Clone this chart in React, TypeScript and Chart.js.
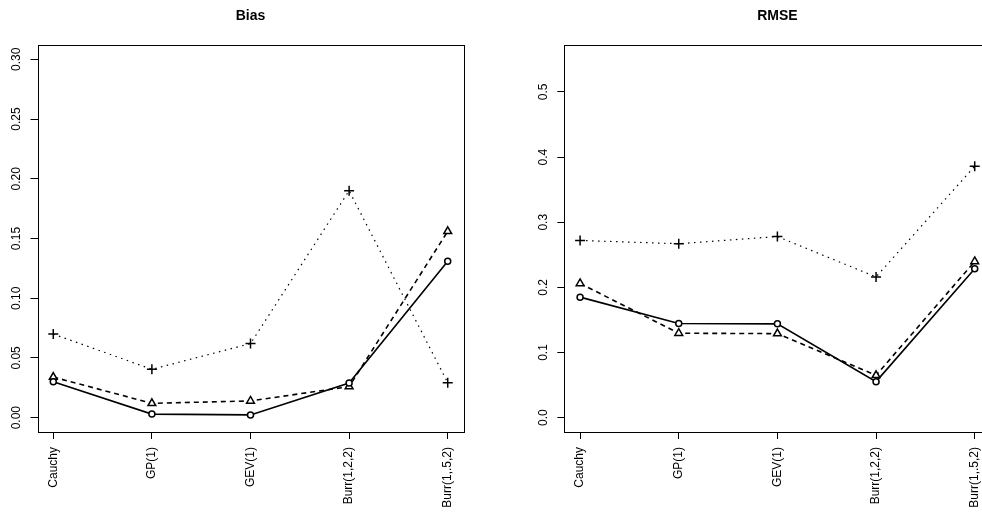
import React, { useEffect, useRef } from "react";
import { Chart, registerables } from "chart.js";
Chart.register(...registerables);

const categories = ["Cauchy", "GP(1)", "GEV(1)", "Burr(1,2,2)", "Burr(1,.5,2)"];
const xPositions = [1, 2, 3, 4, 5];

const biasCircle = [0.030, 0.003, 0.0023, 0.029, 0.131];
const biasTriangle = [0.034, 0.012, 0.014, 0.026, 0.156];
const biasPlus = [0.070, 0.0405, 0.062, 0.190, 0.0293];

const rmseCircle = [0.185, 0.1445, 0.144, 0.0553, 0.2285];
const rmseTriangle = [0.206, 0.1296, 0.129, 0.065, 0.2397];
const rmsePlus = [0.272, 0.267, 0.278, 0.216, 0.386];

const biasTicks = [0, 0.05, 0.1, 0.15, 0.2, 0.25, 0.3];
const rmseTicks = [0, 0.1, 0.2, 0.3, 0.4, 0.5];

const FONT = '"Liberation Sans", Arial, Helvetica, sans-serif';

const rPlot = {
  id: "rplot",
  afterDraw(chart: any, _args: any, opts: any) {
    const { ctx, chartArea: a } = chart;
    ctx.save();
    ctx.strokeStyle = "#000";
    ctx.lineWidth = 1;
    ctx.setLineDash([]);
    ctx.strokeRect(
      Math.round(a.left) + 0.5,
      Math.round(a.top) + 0.5,
      Math.round(a.right - a.left),
      Math.round(a.bottom - a.top)
    );
    ctx.fillStyle = "#000";
    ctx.font = `bold 14px ${FONT}`;
    ctx.textAlign = "center";
    ctx.textBaseline = "alphabetic";
    ctx.fillText(opts.title, (a.left + a.right) / 2, 20);
    const ys = chart.scales.y;
    ctx.font = `12px ${FONT}`;
    for (const t of ys.ticks) {
      const y = ys.getPixelForValue(t.value);
      ctx.save();
      ctx.translate(a.left - 17.5, y);
      ctx.rotate(-Math.PI / 2);
      ctx.fillText(Number(t.value).toFixed(opts.decimals), 0, 0);
      ctx.restore();
    }
    ctx.restore();
  },
};

type PanelProps = {
  title: string;
  circle: number[];
  triangle: number[];
  plus: number[];
  ticks: number[];
  yMin: number;
  yMax: number;
  decimals: number;
  width: number;
  axisWidth: number;
  padRight: number;
  left: number;
};

function Panel(p: PanelProps) {
  const ref = useRef<HTMLCanvasElement | null>(null);
  useEffect(() => {
    if (!ref.current) return;
    const pts = (vals: number[]) => xPositions.map((x, i) => ({ x, y: vals[i] }));
    const chart = new Chart(ref.current, {
      type: "line",
      data: {
        datasets: [
          {
            data: pts(p.circle),
            borderColor: "#000",
            borderWidth: 1.6,
            pointStyle: "circle",
            pointRadius: 3,
            pointBorderWidth: 1.5,
            pointBorderColor: "#000",
            pointBackgroundColor: "#fff",
            fill: false,
            tension: 0,
          },
          {
            data: pts(p.triangle),
            borderColor: "#000",
            borderWidth: 1.6,
            borderDash: [5, 4],
            pointStyle: "triangle",
            pointRadius: 4.5,
            pointBorderWidth: 1.5,
            pointBorderColor: "#000",
            pointBackgroundColor: "#fff",
            fill: false,
            tension: 0,
          },
          {
            data: pts(p.plus),
            borderColor: "#000",
            borderWidth: 1.2,
            borderDash: [1.5, 4.5],
            pointStyle: "cross",
            pointRadius: 5,
            pointBorderWidth: 1.5,
            pointBorderColor: "#000",
            pointBackgroundColor: "#fff",
            fill: false,
            tension: 0,
          },
        ],
      },
      options: {
        responsive: false,
        animation: false,
        devicePixelRatio: 1,
        layout: { padding: { top: 45, right: p.padRight, left: 0, bottom: 0 } },
        scales: {
          x: {
            type: "linear",
            min: 0.84,
            max: 5.16,
            afterBuildTicks: (s: any) => {
              s.ticks = xPositions.map((v) => ({ value: v }));
            },
            afterFit: (s: any) => {
              s.height = 80;
            },
            ticks: {
              autoSkip: false,
              minRotation: 90,
              maxRotation: 90,
              padding: 8,
              color: "#000",
              font: { family: FONT, size: 12 },
              callback: (v: any) => categories[Number(v) - 1],
            },
            grid: {
              drawOnChartArea: false,
              drawTicks: true,
              tickLength: 7,
              color: "#000",
              tickColor: "#000",
              lineWidth: 1,
            },
            border: { display: false },
          },
          y: {
            type: "linear",
            min: p.yMin,
            max: p.yMax,
            afterBuildTicks: (s: any) => {
              s.ticks = p.ticks.map((v) => ({ value: v }));
            },
            afterFit: (s: any) => {
              s.width = p.axisWidth;
            },
            ticks: { display: false },
            grid: {
              drawOnChartArea: false,
              drawTicks: true,
              tickLength: 7,
              color: "#000",
              tickColor: "#000",
              lineWidth: 1,
            },
            border: { display: false },
          },
        },
        plugins: {
          legend: { display: false },
          tooltip: { enabled: false },
          title: { display: false },
          rplot: { title: p.title, decimals: p.decimals },
        } as any,
      },
      plugins: [rPlot],
    } as any);
    return () => chart.destroy();
  }, []);
  return (
    <canvas
      ref={ref}
      width={p.width}
      height={512}
      style={{ position: "absolute", left: p.left, top: 0, width: p.width, height: 512 }}
    />
  );
}

export default function App() {
  return (
    <div
      style={{
        position: "fixed",
        left: 0,
        top: 0,
        width: 982,
        height: 512,
        overflow: "hidden",
        background: "#fff",
      }}
    >
      <Panel
        title="Bias"
        circle={biasCircle}
        triangle={biasTriangle}
        plus={biasPlus}
        ticks={biasTicks}
        yMin={-0.012}
        yMax={0.312}
        decimals={2}
        width={491}
        axisWidth={37.5}
        padRight={27.5}
        left={0}
      />
      <Panel
        title="RMSE"
        circle={rmseCircle}
        triangle={rmseTriangle}
        plus={rmsePlus}
        ticks={rmseTicks}
        yMin={-0.022}
        yMax={0.572}
        decimals={1}
        width={520}
        axisWidth={73.3}
        padRight={20.5}
        left={491}
      />
    </div>
  );
}
